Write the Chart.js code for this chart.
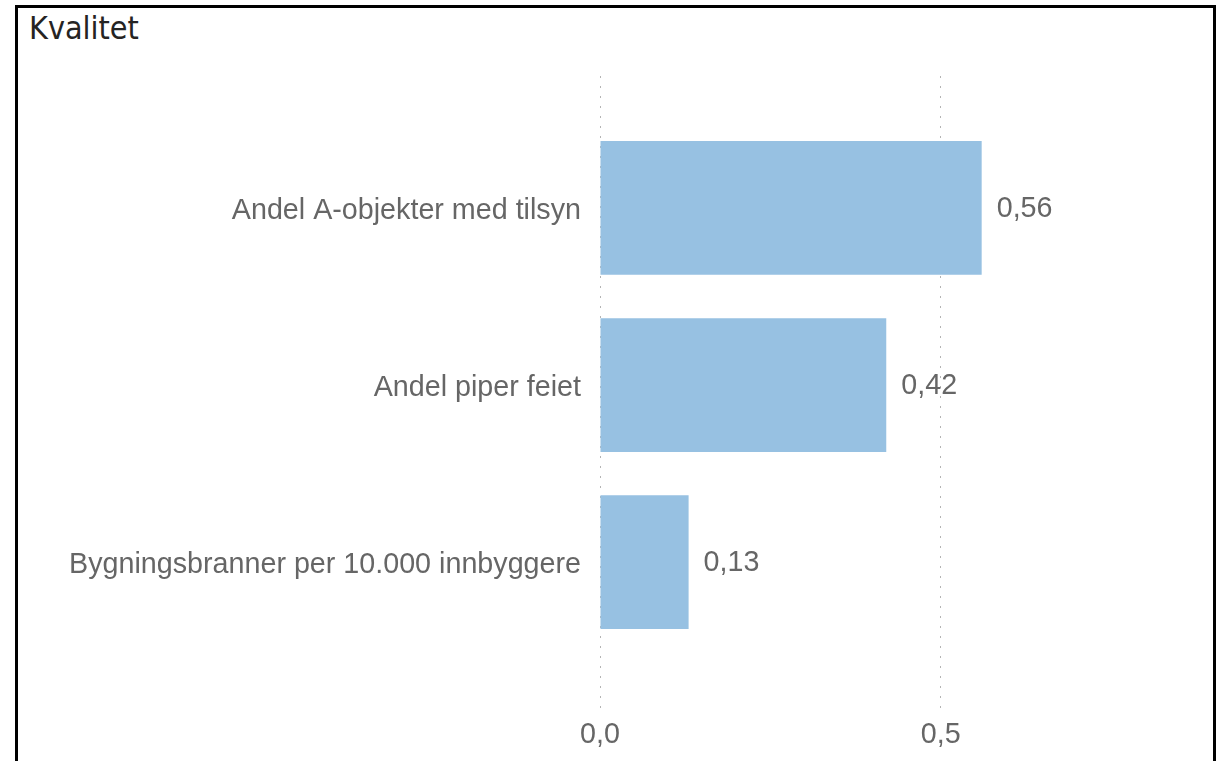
<!DOCTYPE html>
<html>
<head>
<meta charset="utf-8">
<script src="https://cdn.jsdelivr.net/npm/chart.js@4.4.0/dist/chart.umd.min.js"></script>
<style>
    html, body { margin: 0; padding: 0; background: #fff; overflow: hidden; }
    #frame {
        position: absolute; left: 15px; top: 5px;
        width: 1195px; height: 800px;
        border: 3px solid #000;
    }
    #title {
        position: absolute; left: 29px; top: 9px;
        font-family: "DejaVu Sans Condensed", "DejaVu Sans", sans-serif;
        font-stretch: condensed;
        font-size: 32px; color: #252423;
    }
    #wrap { position: absolute; left: 0; top: 0; width: 1226px; height: 761px; }
</style>
</head>
<body>
<div id="frame"></div>
<div id="title">Kvalitet</div>
<div id="wrap"><canvas id="chart"></canvas></div>
<script>
// indikatorer og verdier
const categories = ['Andel A-objekter med tilsyn', 'Andel piper feiet', 'Bygningsbranner per 10.000 innbyggere'];
const values = [0.56, 0.42, 0.13];
const xTicks = [0, 0.5];

const barColor = '#97C1E2';
const textColor = '#666666';
const fontFamily = 'Arial, "Liberation Sans", sans-serif';
const fontSize = 28.7;

function fmt(v, d) {
    return v.toFixed(d).replace('.', ',');
}

// verdien skrives til høyre for hver stolpe
const valueLabels = {
    id: 'valueLabels',
    afterDatasetsDraw(chart) {
        const ctx = chart.ctx;
        const meta = chart.getDatasetMeta(0);
        ctx.save();
        ctx.font = fontSize + 'px ' + fontFamily;
        ctx.fillStyle = textColor;
        ctx.textAlign = 'left';
        ctx.textBaseline = 'middle';
        meta.data.forEach((bar, i) => {
            ctx.fillText(fmt(values[i], 2), bar.x + 15, bar.y + 1);
        });
        ctx.restore();
    }
};

const points = values.map((v, i) => ({ x: v, y: i }));

new Chart(document.getElementById('chart'), {
    type: 'bar',
    data: {
        datasets: [{
            data: points,
            backgroundColor: barColor,
            borderWidth: 0,
            barPercentage: 0.755,
            categoryPercentage: 1
        }]
    },
    options: {
        indexAxis: 'y',
        responsive: true,
        maintainAspectRatio: false,
        animation: false,
        layout: { padding: { top: 76, right: 31, left: 0, bottom: 0 } },
        plugins: {
            legend: { display: false },
            tooltip: { enabled: false }
        },
        scales: {
            x: {
                type: 'linear',
                min: 0,
                max: 0.873,
                afterBuildTicks: scale => { scale.ticks = xTicks.map(v => ({ value: v })); },
                afterFit: scale => { scale.height = 51; },
                border: { display: false, dash: [2, 8] },
                grid: {
                    color: '#b4b4b4',
                    lineWidth: 1,
                    drawTicks: false
                },
                ticks: {
                    padding: 8,
                    color: textColor,
                    font: { family: fontFamily, size: fontSize },
                    callback: v => fmt(v, 1)
                }
            },
            y: {
                type: 'linear',
                reverse: true,
                offset: false,
                min: -0.745,
                max: 2.835,
                afterBuildTicks: scale => { scale.ticks = categories.map((c, i) => ({ value: i })); },
                afterFit: scale => { scale.width = 600; },
                border: { display: false },
                grid: { display: false, drawTicks: false, offset: false },
                ticks: {
                    padding: 19,
                    labelOffset: 3,
                    color: textColor,
                    font: { family: fontFamily, size: fontSize },
                    callback: v => categories[v]
                }
            }
        }
    },
    plugins: [valueLabels]
});
</script>
</body>
</html>
